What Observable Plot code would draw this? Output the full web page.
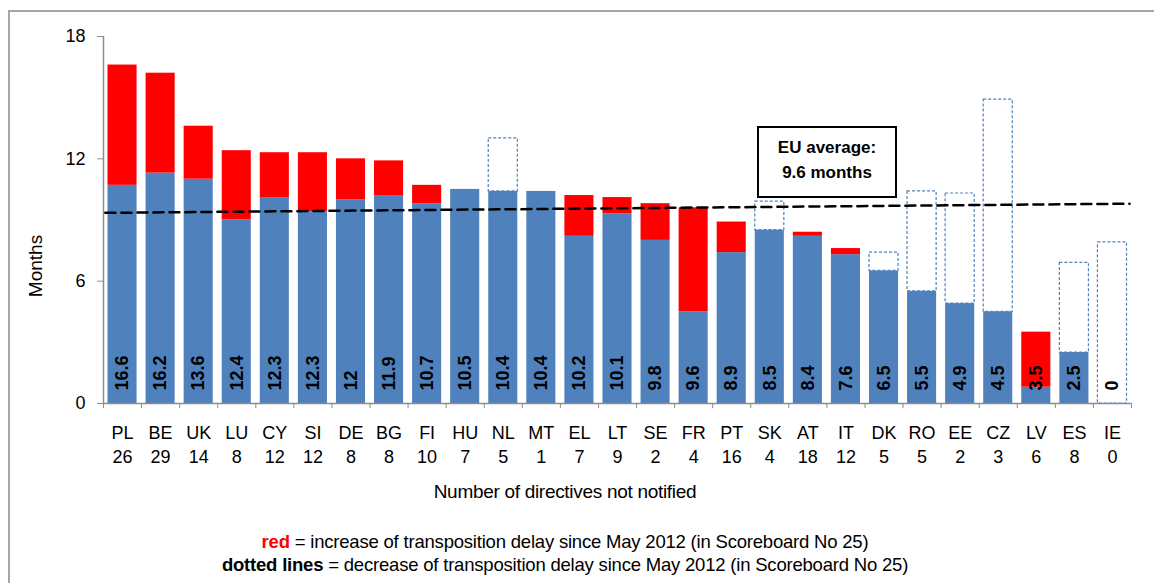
<!DOCTYPE html>
<html>
<head>
<meta charset="utf-8">
<script src="https://cdn.jsdelivr.net/npm/d3@7"></script>
<script src="https://cdn.jsdelivr.net/npm/@observablehq/plot@0.6"></script>
<style>
  html, body { margin: 0; padding: 0; background: #fff; }
  body { font-family: "Liberation Sans", Arial, sans-serif; }
  #wrap { position: relative; width: 1154px; height: 583px; overflow: hidden; }
  #frame { position: absolute; left: 8px; top: 10px; right: -4px; bottom: -4px;
           border-top: 2px solid #a6a6a6; border-left: 2px solid #a6a6a6; }
  #chart { position: absolute; left: 0; top: 0; }
  #avgbox { position: absolute; left: 757px; top: 126px; width: 136px; height: 61px;
            border: 2px solid #000; background: #fff; text-align: center;
            font-weight: bold; font-size: 17px; line-height: 25px; padding-top: 7px; box-sizing: content-box; }
  #xlabel { position: absolute; left: 0; width: 1130px; top: 481px; text-align: center;
            font-size: 19px; line-height: 22px; letter-spacing: -0.3px; }
  #legend { position: absolute; left: 0; width: 1130px; top: 530px; text-align: center;
            font-size: 18.5px; line-height: 23px; letter-spacing: -0.2px; }
</style>
</head>
<body>
<div id="wrap">
  <div id="frame"></div>
  <div id="chart"></div>
  <div id="avgbox"></div>
  <div id="xlabel"></div>
  <div id="legend"></div>
</div>
<script>
// Member states, ordered as in the chart
const countries = ["PL","BE","UK","LU","CY","SI","DE","BG","FI","HU","NL","MT","EL","LT","SE","FR","PT","SK","AT","IT","DK","RO","EE","CZ","LV","ES","IE"];
// Number of directives not notified
const notNotified = [26,29,14,8,12,12,8,8,10,7,5,1,7,9,2,4,16,4,18,12,5,5,2,3,6,8,0];
// Current average transposition delay (months)
const currentDelay = [16.6,16.2,13.6,12.4,12.3,12.3,12,11.9,10.7,10.5,10.4,10.4,10.2,10.1,9.8,9.6,8.9,8.5,8.4,7.6,6.5,5.5,4.9,4.5,3.5,2.5,0];
// Delay in May 2012 (Scoreboard No 25)
const previousDelay = [10.7,11.3,11.0,9.0,10.1,9.4,10.0,10.2,9.8,10.5,13.0,10.4,8.2,9.3,8.0,4.5,7.4,9.9,8.2,7.3,7.4,10.4,10.3,14.9,0.8,6.9,7.9];
// Dashed EU average line, end points (category index, months)
const avgLineX = [-0.45, 26.45];
const avgLineY = [9.35, 9.8];
const yTicks = [0, 6, 12, 18];

const rows = countries.map((c, i) => ({
  i, country: c, count: notNotified[i], cur: currentDelay[i], prev: previousDelay[i]
}));
const avgLine = avgLineX.map((x, k) => ({x, y: avgLineY[k]}));

const blue = "#4f81bd";
const red = "#ff0000";
const grey = "#8c8c8c";

const plot = Plot.plot({
  width: 1154,
  height: 470,
  marginTop: 36,
  marginBottom: 67,
  marginLeft: 103,
  marginRight: 23,
  style: {fontFamily: "Liberation Sans, Arial, sans-serif", background: "transparent", overflow: "visible"},
  x: {type: "linear", domain: [-0.5, countries.length - 0.5]},
  y: {domain: [0, 18]},
  marks: [
    // blue base
    Plot.rectY(rows, {x1: d => d.i - 0.5, x2: d => d.i + 0.5, y1: 0, y2: d => Math.min(d.cur, d.prev),
      fill: blue, insetLeft: 4.5, insetRight: 4.5}),
    // red increase
    Plot.rectY(rows.filter(d => d.cur > d.prev), {x1: d => d.i - 0.5, x2: d => d.i + 0.5, y1: "prev", y2: "cur",
      fill: red, insetLeft: 4.5, insetRight: 4.5}),
    // dotted decrease
    Plot.rectY(rows.filter(d => d.prev > d.cur), {x1: d => d.i - 0.5, x2: d => d.i + 0.5, y1: "cur", y2: "prev",
      fill: "none", stroke: blue, strokeWidth: 1.2, strokeDasharray: "3,2", insetLeft: 4.5, insetRight: 4.5}),
    // axes lines
    Plot.ruleY([0], {stroke: grey, strokeWidth: 1.5}),
    Plot.ruleX([-0.5], {stroke: grey, strokeWidth: 1.5}),
    Plot.axisY({ticks: yTicks, tickSize: 6, tickPadding: 12, fontSize: 18, stroke: grey, label: null}),
    Plot.axisX({ticks: d3.range(countries.length + 1).map(i => i - 0.5), tickSize: 5, stroke: grey,
      tickFormat: () => "", label: null}),
    Plot.axisX({ticks: d3.range(countries.length), tickSize: 0, tickPadding: 19, fontSize: 18, lineHeight: 1.33,
      tickFormat: i => `${countries[i]}\n${notNotified[i]}`, label: null}),
    // EU average dashed line
    Plot.line(avgLine, {x: "x", y: "y", stroke: "#000", strokeWidth: 2.5, strokeDasharray: "10,6"}),
    // value labels
    Plot.text(rows, {x: "i", y: 0, text: d => String(d.cur), rotate: -90, textAnchor: "start",
      lineAnchor: "middle", dy: -13, fontWeight: "bold", fontSize: 18, fill: "#000"}),
    // y label
    Plot.text(["Months"], {frameAnchor: "left", textAnchor: "middle", lineAnchor: "middle", rotate: -90,
      dx: -68, dy: 46, fontSize: 19, fill: "#000"})
  ]
});
document.getElementById("chart").appendChild(plot);

document.getElementById("avgbox").innerHTML = "EU average:<br>9.6 months";
document.getElementById("xlabel").textContent = "Number of directives not notified";
document.getElementById("legend").innerHTML =
  '<span style="color:#ff0000;font-weight:bold">red</span> = increase of transposition delay since May 2012 (in Scoreboard No 25)<br>' +
  '<span style="font-weight:bold">dotted lines</span> = decrease of transposition delay since May 2012 (in Scoreboard No 25)';
</script>
</body>
</html>
